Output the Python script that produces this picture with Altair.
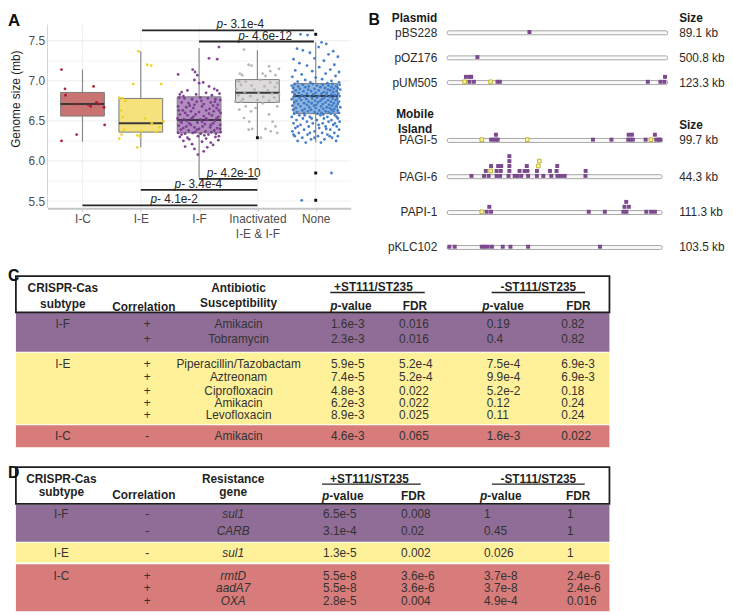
import altair as alt
import pandas as pd

FONT = "Liberation Sans"

# ---------------- Panel A : genome size by CRISPR-Cas subtype ----------------
CATS = ["I-C", "I-E", "I-F", "Inactivated I-E & I-F", "None"]
CAT_LABEL_LINES = [["I-C"], ["I-E"], ["I-F"], ["Inactivated", "I-E & I-F"], ["None"]]
BOX_LOW = [6.24, 6.17, 5.79, 6.30, 6.23]
BOX_Q1 = [6.56, 6.36, 6.35, 6.73, 6.59]
BOX_MED = [6.71, 6.47, 6.51, 6.85, 6.81]
BOX_Q3 = [6.855, 6.78, 6.80, 7.015, 6.965]
BOX_HIGH = [7.14, 7.37, 7.41, 7.38, 7.48]
BOX_FILL = ["#c97473", "#f6e27c", "#b08cbf", "#dddbdb", "#8fb6e0"]
PT_COLOR = ["#a8182c", "#f0d21e", "#7b3a8e", "#b3b3b3", "#3c78c6"]

IC_POINTS = [(-0.36, 7.14), (-0.30, 6.90), (-0.29, 6.82), (0.19, 6.93), (-0.12, 6.71), (0.10, 6.70),
             (0.14, 6.68), (0.24, 6.73), (0.28, 6.71), (0.37, 6.67), (0.38, 6.45), (-0.10, 6.33), (-0.36, 6.25)]
IE_POINTS = [(-0.04, 7.37), (0.11, 7.20), (0.18, 7.19), (-0.13, 6.96), (0.35, 6.96), (-0.37, 6.79),
             (-0.31, 6.78), (-0.26, 6.75), (-0.34, 6.63), (-0.31, 6.55), (0.07, 6.53), (0.19, 6.47),
             (0.39, 6.49), (-0.29, 6.39), (0.00, 6.37), (0.32, 6.42), (0.26, 6.36), (-0.33, 6.33),
             (-0.06, 6.32), (-0.02, 6.31), (-0.37, 6.28), (-0.06, 6.17)]
IF_POINTS = [(0.34, 7.42), (0.17, 7.28), (0.31, 7.27), (-0.36, 7.08), (-0.11, 7.14), (-0.07, 7.11),
             (-0.03, 7.07), (-0.08, 7.01), (0.00, 6.97), (0.07, 6.98), (0.17, 6.93), (0.26, 6.90),
             (0.31, 6.88), (-0.30, 6.86), (-0.20, 6.88), (0.12, 6.85), (-0.33, 6.83), (0.22, 6.82),
             (0.35, 6.84), (-0.05, 6.83), (-0.34, 6.79), (-0.25, 6.78), (-0.12, 6.77), (0.02, 6.79),
             (0.15, 6.78), (0.28, 6.77), (0.36, 6.76), (-0.30, 6.73), (-0.18, 6.72), (-0.04, 6.74),
             (0.08, 6.71), (0.20, 6.73), (0.32, 6.70), (-0.36, 6.68), (-0.22, 6.67), (-0.10, 6.66),
             (0.05, 6.68), (0.18, 6.65), (0.30, 6.66), (-0.28, 6.63), (-0.14, 6.62), (0.00, 6.61),
             (0.12, 6.63), (0.25, 6.62), (0.37, 6.60), (-0.33, 6.58), (-0.20, 6.57), (-0.06, 6.58),
             (0.08, 6.56), (0.22, 6.57), (0.33, 6.55), (-0.37, 6.53), (-0.26, 6.52), (-0.13, 6.53),
             (0.02, 6.52), (0.14, 6.51), (0.27, 6.50), (-0.30, 6.48), (-0.17, 6.47), (-0.03, 6.48),
             (0.10, 6.46), (0.24, 6.47), (0.36, 6.45), (-0.35, 6.44), (-0.22, 6.43), (-0.08, 6.42),
             (0.06, 6.43), (0.19, 6.42), (0.31, 6.41), (-0.31, 6.39), (-0.18, 6.38), (-0.04, 6.39),
             (0.11, 6.37), (0.26, 6.38), (0.37, 6.36), (-0.36, 6.35), (-0.24, 6.34), (-0.11, 6.35),
             (0.03, 6.34), (0.16, 6.33), (0.29, 6.34), (-0.33, 6.30), (-0.20, 6.29), (-0.02, 6.31),
             (0.12, 6.28), (0.28, 6.30), (-0.27, 6.25), (0.05, 6.24), (0.20, 6.23), (-0.12, 6.21),
             (0.33, 6.26), (-0.08, 6.15), (0.08, 6.12), (-0.02, 6.08),
             (-0.27, 6.81), (0.04, 6.75), (0.24, 6.69), (-0.16, 6.69), (0.34, 6.63), (-0.24, 6.60),
             (0.17, 6.59), (-0.10, 6.55), (0.30, 6.53), (-0.32, 6.50), (0.05, 6.49), (0.20, 6.45),
             (-0.14, 6.45), (0.36, 6.40), (-0.27, 6.41), (0.00, 6.40), (0.21, 6.36), (-0.07, 6.36),
             (-0.30, 6.33), (0.34, 6.31), (0.09, 6.32), (-0.17, 6.27), (0.24, 6.20), (-0.24, 6.18),
             (0.14, 6.17), (-0.35, 6.63), (0.27, 6.74), (-0.08, 6.70), (0.12, 6.53), (-0.21, 6.50)]
INACT_POINTS = [(-0.23, 7.39), (-0.15, 7.20), (-0.10, 7.19), (-0.30, 7.09), (-0.26, 7.07), (0.20, 7.18),
                (0.22, 7.12), (0.31, 7.07), (0.14, 7.06), (0.09, 7.09), (0.37, 7.15), (-0.31, 6.99),
                (-0.35, 7.00), (-0.20, 6.99), (0.05, 7.01), (0.22, 6.98), (0.34, 6.97), (-0.28, 6.95),
                (-0.10, 6.94), (0.12, 6.93), (0.30, 6.92), (-0.36, 6.90), (-0.05, 6.89), (0.18, 6.88),
                (-0.22, 6.86), (0.02, 6.85), (0.25, 6.84), (0.37, 6.83), (-0.33, 6.82), (-0.12, 6.81),
                (0.10, 6.80), (0.29, 6.79), (-0.25, 6.77), (0.00, 6.76), (0.20, 6.75), (-0.38, 6.74),
                (0.34, 6.74), (-0.28, 6.74), (-0.20, 6.68), (-0.11, 6.62), (-0.03, 6.66), (-0.23, 6.535),
                (-0.14, 6.49), (-0.15, 6.39), (-0.09, 6.40), (0.20, 6.58), (0.26, 6.49), (0.14, 6.40),
                (0.31, 6.43), (0.06, 6.29), (0.34, 6.68), (0.09, 6.72), (0.23, 6.37), (0.34, 6.35),
                (-0.31, 6.64)]
NONE_POINTS = [(-0.26, 7.58), (-0.14, 7.57), (0.10, 7.48), (0.18, 7.46), (-0.32, 7.40), (-0.22, 7.38),
               (0.30, 7.37), (0.05, 7.42), (-0.10, 7.35), (0.22, 7.33), (0.38, 7.30), (-0.38, 7.27),
               (-0.02, 7.28), (0.14, 7.25), (-0.28, 7.22), (0.32, 7.20), (-0.15, 7.19), (0.06, 7.17),
               (0.25, 7.14), (-0.35, 7.13), (0.40, 7.11), (-0.06, 7.12), (0.17, 7.09), (-0.24, 7.08),
               (0.34, 7.06), (-0.40, 7.05), (0.00, 7.04), (0.11, 7.02), (-0.18, 7.01), (0.27, 7.00),
               (-0.31, 6.99), (0.40, 6.98), (-0.09, 6.98), (0.20, 6.97),
               (-0.36, 6.96), (-0.05, 6.96), (0.29, 6.96), (-0.22, 6.95), (0.12, 6.95), (0.41, 6.95),
               (-0.41, 6.94), (0.02, 6.94), (0.22, 6.94), (-0.30, 6.93), (-0.12, 6.93), (0.35, 6.93),
               (-0.18, 6.92), (0.08, 6.92), (0.27, 6.92), (-0.39, 6.91), (0.16, 6.91), (0.38, 6.91),
               (-0.27, 6.90), (-0.02, 6.90), (0.31, 6.90), (-0.13, 6.89), (0.21, 6.89), (0.42, 6.89),
               (-0.34, 6.88), (0.05, 6.88), (0.25, 6.88), (-0.21, 6.87), (-0.08, 6.87), (0.36, 6.87),
               (-0.40, 6.86), (0.14, 6.86), (0.30, 6.86), (-0.29, 6.85), (0.00, 6.85), (0.19, 6.85),
               (-0.15, 6.84), (0.10, 6.84), (0.39, 6.84), (-0.36, 6.83), (-0.04, 6.83), (0.27, 6.83),
               (-0.24, 6.82), (0.18, 6.82), (0.33, 6.82), (-0.10, 6.81), (0.06, 6.81), (0.41, 6.81),
               (-0.38, 6.80), (-0.19, 6.80), (0.24, 6.80), (-0.28, 6.79), (0.02, 6.79), (0.15, 6.79),
               (-0.06, 6.78), (0.29, 6.78), (0.37, 6.78), (-0.41, 6.77), (-0.16, 6.77), (0.11, 6.77),
               (-0.25, 6.76), (0.21, 6.76), (0.34, 6.76), (-0.33, 6.75), (-0.01, 6.75), (0.08, 6.75),
               (-0.12, 6.74), (0.26, 6.74), (0.40, 6.74), (-0.37, 6.73), (0.04, 6.73), (0.17, 6.73),
               (-0.20, 6.72), (-0.07, 6.72), (0.31, 6.72), (-0.30, 6.71), (0.12, 6.71), (0.38, 6.71),
               (-0.15, 6.70), (0.23, 6.70), (0.01, 6.70), (-0.40, 6.69), (-0.03, 6.69), (0.28, 6.69),
               (-0.26, 6.68), (0.09, 6.68), (0.35, 6.68), (-0.11, 6.67), (0.19, 6.67), (0.42, 6.67),
               (-0.34, 6.66), (0.00, 6.66), (0.24, 6.66), (-0.19, 6.65), (0.13, 6.65), (0.32, 6.65),
               (-0.39, 6.64), (-0.08, 6.64), (0.27, 6.64), (-0.23, 6.63), (0.06, 6.63), (0.38, 6.63),
               (-0.13, 6.62), (0.17, 6.62), (0.30, 6.62), (-0.32, 6.61), (-0.02, 6.61), (0.22, 6.61),
               (-0.20, 6.60), (0.10, 6.60), (0.40, 6.60), (-0.37, 6.59), (0.03, 6.59), (0.26, 6.59),
               (-0.28, 6.57), (0.08, 6.57), (0.33, 6.57), (-0.41, 6.55), (-0.10, 6.55), (0.20, 6.55),
               (-0.22, 6.53), (0.14, 6.53), (0.38, 6.53), (-0.33, 6.51), (0.02, 6.51), (0.27, 6.51),
               (-0.15, 6.49), (0.22, 6.49), (0.41, 6.49), (-0.38, 6.47), (-0.05, 6.47), (0.12, 6.47),
               (-0.26, 6.45), (0.30, 6.45), (-0.12, 6.43), (0.17, 6.43), (0.36, 6.43), (-0.35, 6.41),
               (0.06, 6.41), (-0.20, 6.39), (0.25, 6.39), (0.40, 6.39), (-0.40, 6.37), (-0.02, 6.37),
               (-0.29, 6.35), (0.11, 6.35), (0.32, 6.35), (-0.14, 6.33), (0.20, 6.33), (-0.36, 6.31),
               (0.04, 6.31), (0.38, 6.31), (-0.23, 6.29), (0.28, 6.29), (-0.08, 6.27), (0.15, 6.27),
               (-0.31, 6.25), (0.35, 6.25), (-0.17, 6.23), (0.09, 6.23), (0.27, 5.85), (-0.24, 5.51),
               (-0.07, 6.53), (0.33, 6.47), (-0.31, 6.43), (0.18, 6.40), (-0.10, 6.35), (0.24, 6.31),
               (-0.02, 6.29), (-0.38, 6.33), (0.05, 6.45), (-0.19, 6.57), (0.36, 6.55), (0.13, 6.58)]
GROUP_POINTS = [IC_POINTS, IE_POINTS, IF_POINTS, INACT_POINTS, NONE_POINTS]
OUTLIER_CAT = [3, 4, 4, 4]
OUTLIER_VAL = [6.29, 7.58, 5.85, 5.51]

BRACKET_FROM = [1.02, 2.0, 2.0, 1.0, 0.0]
BRACKET_TO = [3.97, 3.97, 3.0, 3.0, 3.0]
BRACKET_Y = [7.63, 7.49, 5.776, 5.64, 5.447]
BRACKET_P = ["3.1e-4", "4.6e-12", "4.2e-10", "3.4e-4", "4.1e-2"]
BRACKET_TEXT_AT = [2.30, 2.67, 2.13, 1.58, 1.165]

Y_MAJOR = [5.5, 6.0, 6.5, 7.0, 7.5]
Y_MINOR = [5.75, 6.25, 6.75, 7.25]

# ---------------- Panel B : protospacer positions ----------------
PLASMIDS = ["pBS228", "pOZ176", "pUM505"]
PLASMID_SIZE = ["89.1 kb", "500.8 kb", "123.3 kb"]
ISLANDS = ["PAGI-5", "PAGI-6", "PAPI-1", "pKLC102"]
ISLAND_SIZE = ["99.7 kb", "44.3 kb", "111.3 kb", "103.5 kb"]
# (position along element in % of track, stack level, subtype)
MARKERS = {
    "pBS228": [(37.3, 0, "I-F")],
    "pOZ176": [(13.7, 0, "I-F")],
    "pUM505": [(7.9, 0, "I-E"), (8.5, 1, "I-F"), (10.1, 1, "I-F"), (10.9, 1, "I-F"), (10.1, 0, "I-F"),
               (12.1, 0, "I-F"), (19.7, 0, "I-E"), (22.8, 0, "I-F"), (23.9, 0, "I-F"), (91.0, 0, "I-F"),
               (96.7, 0, "I-F"), (98.5, 0, "I-F"), (98.8, 1, "I-F")],
    "PAGI-5": [(15.7, 0, "I-E"), (19.9, 0, "I-F"), (21.0, 0, "I-F"), (22.2, 0, "I-F"), (22.9, 0, "I-F"),
               (22.1, 1, "I-F"), (36.3, 0, "I-E"), (66.1, 0, "I-F"), (74.5, 0, "I-F"), (82.1, 0, "I-F"),
               (83.1, 0, "I-F"), (84.2, 0, "I-F"), (82.3, 1, "I-F"), (83.8, 1, "I-F"), (90.0, 0, "I-F"),
               (92.4, 0, "I-E"), (94.2, 1, "I-F"), (94.8, 0, "I-F"), (96.0, 0, "I-F"), (96.7, 0, "I-F")],
    "PAGI-6": [(11.0, 0, "I-F"), (16.7, 0, "I-F"), (18.8, 0, "I-F"), (22.4, 0, "I-F"), (24.0, 0, "I-F"),
               (27.8, 0, "I-F"), (30.6, 0, "I-F"), (31.9, 0, "I-F"), (33.6, 0, "I-F"), (36.7, 0, "I-F"),
               (40.7, 0, "I-F"), (43.6, 0, "I-F"), (47.2, 0, "I-F"), (50.0, 0, "I-F"), (51.6, 0, "I-F"),
               (53.3, 0, "I-F"), (62.7, 0, "I-F"),
               (17.5, 1, "I-F"), (19.7, 1, "I-E"), (22.4, 1, "I-F"), (24.3, 1, "I-F"), (28.2, 1, "I-F"),
               (32.8, 1, "I-F"), (35.1, 1, "I-F"), (36.4, 1, "I-F"), (40.7, 1, "I-F"), (46.6, 1, "I-F"),
               (49.6, 1, "I-F"), (62.8, 1, "I-F"),
               (19.9, 2, "I-F"), (23.1, 2, "I-F"), (24.5, 2, "I-F"), (28.2, 2, "I-F"), (36.1, 2, "I-F"),
               (41.3, 2, "I-E"), (49.9, 2, "I-F"),
               (28.2, 3, "I-F"), (41.8, 3, "I-E"), (28.2, 4, "I-F")],
    "PAPI-1": [(15.7, 0, "I-E"), (17.9, 0, "I-F"), (19.9, 0, "I-F"), (64.2, 0, "I-F"), (71.5, 0, "I-F"),
               (79.9, 0, "I-F"), (81.3, 0, "I-F"), (90.3, 0, "I-F"), (92.5, 0, "I-F"), (94.2, 0, "I-F"),
               (19.1, 1, "I-F"), (80.4, 1, "I-F"), (82.4, 1, "I-F"), (81.2, 2, "I-F")],
    "pKLC102": [(1.0, 0, "I-F"), (3.4, 0, "I-F"), (15.7, 0, "I-F"), (16.9, 0, "I-F"), (18.4, 0, "I-F"),
                (20.3, 0, "I-F"), (25.2, 0, "I-F"), (28.7, 0, "I-F"), (36.7, 0, "I-F"), (69.3, 0, "I-F")],
}

# ---------------- Panel C table ----------------
C_SUBTYPE = ["I-F", "", "I-E", "", "", "", "", "I-C"]
C_GROUP = ["I-F", "I-F", "I-E", "I-E", "I-E", "I-E", "I-E", "I-C"]
C_CORR = ["+", "+", "+", "+", "+", "+", "+", "-"]
C_DRUG = ["Amikacin", "Tobramycin", "Piperacillin/Tazobactam", "Aztreonam", "Ciprofloxacin",
          "Amikacin", "Levofloxacin", "Amikacin"]
C_P_WITH = ["1.6e-3", "2.3e-3", "5.9e-5", "7.4e-5", "4.8e-3", "6.2e-3", "8.9e-3", "4.6e-3"]
C_FDR_WITH = ["0.016", "0.016", "5.2e-4", "5.2e-4", "0.022", "0.022", "0.025", "0.065"]
C_P_WITHOUT = ["0.19", "0.4", "7.5e-4", "9.9e-4", "5.2e-2", "0.12", "0.11", "1.6e-3"]
C_FDR_WITHOUT = ["0.82", "0.82", "6.9e-3", "6.9e-3", "0.18", "0.24", "0.24", "0.022"]

# ---------------- Panel D table ----------------
D_SUBTYPE = ["I-F", "", "I-E", "I-C", "", ""]
D_GROUP = ["I-F", "I-F", "I-E", "I-C", "I-C", "I-C"]
D_CORR = ["-", "-", "-", "+", "+", "+"]
D_GENE = ["sul1", "CARB", "sul1", "rmtD", "aadA7", "OXA"]
D_P_WITH = ["6.5e-5", "3.1e-4", "1.3e-5", "5.5e-8", "5.5e-8", "2.8e-5"]
D_FDR_WITH = ["0.008", "0.02", "0.002", "3.6e-6", "3.6e-6", "0.004"]
D_P_WITHOUT = ["1", "0.45", "0.026", "3.7e-8", "3.7e-8", "4.9e-4"]
D_FDR_WITHOUT = ["1", "1", "1", "2.4e-6", "2.4e-6", "0.016"]

GROUP_COLOR = {"I-F": "#8f6d97", "I-E": "#fff19a", "I-C": "#d77c7a"}

# =====================================================================
# Panel A
A_W, A_H = 307, 199
xs = alt.Scale(domain=[-0.6, 4.6], nice=False, zero=False)
ys = alt.Scale(domain=[5.41, 7.861], nice=False, zero=False)


def js_label(lines):
    if len(lines) == 1:
        return "'" + lines[0] + "'"
    return "[" + ", ".join("'" + l + "'" for l in lines) + "]"


label_expr = ""
for i, lines in enumerate(CAT_LABEL_LINES):
    label_expr += f"datum.value == {i} ? {js_label(lines)} : "
label_expr += "''"

box_df = pd.DataFrame({"idx": range(len(CATS)), "cat": CATS, "low": BOX_LOW, "q1": BOX_Q1,
                       "med": BOX_MED, "q3": BOX_Q3, "high": BOX_HIGH, "fill": BOX_FILL})
box_df["left"] = box_df["idx"] - 0.375
box_df["right"] = box_df["idx"] + 0.375

pt_rows = []
for i, pts in enumerate(GROUP_POINTS):
    for jit, val in pts:
        pt_rows.append({"x": i + jit, "y": val, "color": PT_COLOR[i]})
pt_df = pd.DataFrame(pt_rows)
out_df = pd.DataFrame({"x": OUTLIER_CAT, "y": OUTLIER_VAL})
br_df = pd.DataFrame({"x0": BRACKET_FROM, "x1": BRACKET_TO, "y": BRACKET_Y,
                      "tx": BRACKET_TEXT_AT, "rest": ["- " + p for p in BRACKET_P], "p": "p"})
hgrid = pd.DataFrame({"v": Y_MAJOR + Y_MINOR, "major": [1] * len(Y_MAJOR) + [0] * len(Y_MINOR),
                      "x0": -0.6, "x1": 4.6})
vgrid = pd.DataFrame({"idx": range(len(CATS)), "y0": 5.41, "y1": 7.70})
axis_line = pd.DataFrame({"x": [-0.6], "y0": [5.41], "y1": [7.70]})

X_AXIS = alt.Axis(values=list(range(len(CATS))), labelExpr=label_expr, title=None, grid=False,
                  domainColor="#c6c6c6", domainWidth=2, tickColor="#c6c6c6", tickSize=3,
                  labelFontSize=12, labelColor="#4d4d4d", labelPadding=2, labelLineHeight=16,
                  labelOverlap=False, labelFlush=False, labelFont=FONT)
Y_AXIS = alt.Axis(values=Y_MAJOR, format=".1f", title="Genome size (mb)", grid=False, domain=False,
                  ticks=False, labelPadding=3, labelFontSize=12, labelColor="#4d4d4d", labelFont=FONT,
                  titleFontSize=12, titleFontWeight="normal", titleColor="#1a1a1a", titlePadding=6,
                  titleFont=FONT, titleY=88)


def ax(field):
    return alt.X(field, scale=xs, axis=X_AXIS)


def ay(field):
    return alt.Y(field, scale=ys, axis=Y_AXIS)


hgrid_l = alt.Chart(hgrid).mark_rule(strokeWidth=0.8).encode(
    x=ax("x0:Q"), x2="x1:Q", y=ay("v:Q"),
    color=alt.Color("major:N", scale=alt.Scale(domain=[0, 1], range=["#f4f4f4", "#e9e9e9"]), legend=None))
vgrid_l = alt.Chart(vgrid).mark_rule(strokeWidth=0.8, color="#ececec").encode(
    x=ax("idx:Q"), y=ay("y0:Q"), y2="y1:Q")
axline_l = alt.Chart(axis_line).mark_rule(strokeWidth=1, color="#d3d3d3").encode(
    x=ax("x:Q"), y=ay("y0:Q"), y2="y1:Q")
whisk_l = alt.Chart(box_df).mark_rule(strokeWidth=1.2, color="#8a8a8a").encode(
    x=ax("idx:Q"), y=ay("low:Q"), y2="high:Q")
box_l = alt.Chart(box_df).mark_bar(stroke="#7a7a7a", strokeWidth=1).encode(
    x=ax("left:Q"), x2="right:Q", y=ay("q1:Q"), y2="q3:Q", fill=alt.Fill("fill:N", scale=None))
med_l = alt.Chart(box_df).mark_rule(strokeWidth=2, color="#3a3a3a").encode(
    x=ax("left:Q"), x2="right:Q", y=ay("med:Q"))
pts_l = alt.Chart(pt_df).mark_circle(size=8, opacity=0.95).encode(
    x=ax("x:Q"), y=ay("y:Q"), color=alt.Color("color:N", scale=None))
out_l = alt.Chart(out_df).mark_square(size=9, color="#111111", opacity=1).encode(
    x=ax("x:Q"), y=ay("y:Q"))
br_l = alt.Chart(br_df).mark_rule(strokeWidth=1.8, color="#262626").encode(
    x=ax("x0:Q"), x2="x1:Q", y=ay("y:Q"))
brp_l = alt.Chart(br_df).mark_text(align="left", baseline="alphabetic", dy=-2, fontSize=12,
                                   fontStyle="italic", font=FONT, color="#262626").encode(
    x=ax("tx:Q"), y=ay("y:Q"), text="p:N")
brt_l = alt.Chart(br_df).mark_text(align="left", baseline="alphabetic", dy=-2, dx=6.7, fontSize=12,
                                   font=FONT, color="#262626").encode(
    x=ax("tx:Q"), y=ay("y:Q"), text="rest:N")
a_letter = alt.Chart(pd.DataFrame({"t": ["A"]})).mark_text(
    align="left", baseline="alphabetic", fontSize=17, fontWeight="bold", font=FONT, color="#111111").encode(
    x=alt.value(-40), y=alt.value(14), text="t:N")

panel_a = alt.layer(hgrid_l, vgrid_l, axline_l, whisk_l, box_l, med_l, pts_l, out_l, br_l, brp_l,
                    brt_l, a_letter).properties(width=A_W, height=A_H)

# =====================================================================
# Panel B
B_TOP, B_BOTTOM = 4, 250
B_W, B_H = 363, B_BOTTOM - B_TOP
bx = alt.Scale(domain=[-36.6, 126.0], nice=False, zero=False)
by = alt.Scale(domain=[B_TOP, B_BOTTOM], reverse=True, nice=False, zero=False)
ELEMENTS = PLASMIDS + ISLANDS
SIZES = PLASMID_SIZE + ISLAND_SIZE
ROW_Y = [25.3, 50.7, 75.7, 134.3, 171.0, 207.3, 242.7]
TRACK_END = [100.0] * len(PLASMIDS) + [97.5] * len(ISLANDS)
LABEL_X, SIZE_X = -4.5, 105.2

bar_df = pd.DataFrame({"name": ELEMENTS, "x0": 0.0, "x1": TRACK_END,
                       "y0": [r - 2.0 for r in ROW_Y], "y1": [r + 2.0 for r in ROW_Y]})
lab_df = pd.DataFrame({"t": ELEMENTS, "x": LABEL_X, "y": ROW_Y})
size_df = pd.DataFrame({"t": SIZES, "x": SIZE_X, "y": ROW_Y})
mk_rows = []
for name, ry in zip(ELEMENTS, ROW_Y):
    for pos, lvl, st in MARKERS[name]:
        mk_rows.append({"x": pos, "y": ry - 0.8 - 5.0 * lvl, "st": st})
mk_df = pd.DataFrame(mk_rows)
hdr_right = pd.DataFrame({"t": ["Plasmid", "Mobile", "Island"], "x": [LABEL_X, -14.6, -14.6],
                          "y": [10.0, 107.3, 122.7], "al": ["right", "center", "center"]})
hdr_size = pd.DataFrame({"t": ["Size", "Size"], "x": SIZE_X, "y": [10.0, 118.3]})


def bxe(f):
    return alt.X(f, scale=bx, axis=None)


def bye(f):
    return alt.Y(f, scale=by, axis=None)


bars_l = alt.Chart(bar_df).mark_rect(fill="#f9f9f9", stroke="#9d9d9d", strokeWidth=0.9,
                                     cornerRadius=1.5).encode(
    x=bxe("x0:Q"), x2="x1:Q", y=bye("y0:Q"), y2="y1:Q")
mkf_l = alt.Chart(mk_df).transform_filter(alt.datum.st == "I-F").mark_square(
    size=16, color="#7b4a8e", opacity=1).encode(x=bxe("x:Q"), y=bye("y:Q"))
mke_l = alt.Chart(mk_df).transform_filter(alt.datum.st == "I-E").mark_point(
    shape="square", size=14, filled=True, fill="#f8f2ae", stroke="#c2b62a", strokeWidth=1,
    opacity=1).encode(x=bxe("x:Q"), y=bye("y:Q"))
lab_l = alt.Chart(lab_df).mark_text(align="right", baseline="middle", fontSize=12, font=FONT,
                                    color="#2b2b2b").encode(x=bxe("x:Q"), y=bye("y:Q"), text="t:N")
size_l = alt.Chart(size_df).mark_text(align="left", baseline="middle", fontSize=12, font=FONT,
                                      color="#2b2b2b").encode(x=bxe("x:Q"), y=bye("y:Q"), text="t:N")
hdr_r_l = alt.Chart(hdr_right).transform_filter(alt.datum.al == "right").mark_text(
    align="right", baseline="middle", fontSize=12, fontWeight="bold", font=FONT, color="#1a1a1a").encode(
    x=bxe("x:Q"), y=bye("y:Q"), text="t:N")
hdr_c_l = alt.Chart(hdr_right).transform_filter(alt.datum.al == "center").mark_text(
    align="center", baseline="middle", fontSize=12, fontWeight="bold", font=FONT, color="#1a1a1a").encode(
    x=bxe("x:Q"), y=bye("y:Q"), text="t:N")
hdr_s_l = alt.Chart(hdr_size).mark_text(align="left", baseline="middle", fontSize=12,
                                        fontWeight="bold", font=FONT, color="#1a1a1a").encode(
    x=bxe("x:Q"), y=bye("y:Q"), text="t:N")
b_letter = alt.Chart(pd.DataFrame({"t": ["B"], "x": [-35.7], "y": [17.0]})).mark_text(
    align="left", baseline="alphabetic", fontSize=16, fontWeight="bold", font=FONT, color="#111111").encode(
    x=bxe("x:Q"), y=bye("y:Q"), text="t:N")

panel_b = alt.layer(bars_l, mkf_l, mke_l, lab_l, size_l, hdr_r_l, hdr_c_l, hdr_s_l,
                    b_letter).properties(width=B_W, height=B_H)


# =====================================================================
# Tables C and D (x in table pixel units; origin aligned with panel A's plot origin)
T_X0, T_X1 = 46.0, 618.0


def make_table(letter, letter_y, height, header_box, bands, hdr_texts, hdr_italic_p, underlines,
               body_cols, body_y, italic_col=None):
    W = T_X1 - T_X0
    sx = alt.Scale(domain=[T_X0, T_X1], nice=False, zero=False)
    sy = alt.Scale(domain=[0, height], reverse=True, nice=False, zero=False)

    def tl(df, align, weight="normal", style="normal", color="#333333", size=12):
        return alt.Chart(df).mark_text(align=align, baseline="middle", fontSize=size, font=FONT,
                                       fontWeight=weight, fontStyle=style, color=color).encode(
            x=alt.X("x:Q", scale=sx, axis=None), y=alt.Y("y:Q", scale=sy, axis=None), text="t:N")

    band_df = pd.DataFrame(bands)
    bands_l = alt.Chart(band_df).mark_rect().encode(
        x=alt.X("x0:Q", scale=sx, axis=None), x2="x1:Q", y=alt.Y("y0:Q", scale=sy, axis=None),
        y2="y1:Q", fill=alt.Fill("fill:N", scale=None))
    hb = pd.DataFrame([header_box])
    hbox_l = alt.Chart(hb).mark_rect(fill="white", stroke="#1e1e1e", strokeWidth=1.8).encode(
        x=alt.X("x0:Q", scale=sx, axis=None), x2="x1:Q", y=alt.Y("y0:Q", scale=sy, axis=None), y2="y1:Q")
    ul_l = alt.Chart(pd.DataFrame(underlines)).mark_rule(strokeWidth=1.5, color="#222222").encode(
        x=alt.X("x0:Q", scale=sx, axis=None), x2="x1:Q", y=alt.Y("y:Q", scale=sy, axis=None))
    hdf = pd.DataFrame(hdr_texts)
    layers = [bands_l, hbox_l, ul_l]
    for al in ["left", "center"]:
        sub = hdf[hdf["al"] == al]
        if len(sub):
            layers.append(tl(sub, al, weight="bold", color="#1f1f1f"))
    pdf = pd.DataFrame(hdr_italic_p)
    layers.append(tl(pdf.assign(t="p"), "left", weight="bold", style="italic", color="#1f1f1f"))
    layers.append(tl(pdf.assign(x=pdf["x"] + 7.3, t="-value"), "left", weight="bold", color="#1f1f1f"))
    for ci, (texts, x, al) in enumerate(body_cols):
        df = pd.DataFrame({"t": texts, "x": x, "y": body_y})
        df = df[df["t"] != ""]
        style = "italic" if italic_col == ci else "normal"
        layers.append(tl(df, al, style=style))
    layers.append(alt.Chart(pd.DataFrame({"t": [letter]})).mark_text(
        align="left", baseline="middle", fontSize=16, fontWeight="bold", font=FONT, color="#111111").encode(
        x=alt.value(-40), y=alt.value(letter_y), text="t:N"))
    return alt.layer(*layers).properties(width=W, height=height)


TL, TR = 14.0, 615.0
# --- C
C_H = 187
c_bands = [{"x0": TL, "x1": TR, "y0": 46.0, "y1": 85.3, "fill": GROUP_COLOR["I-F"]},
           {"x0": TL, "x1": TR, "y0": 86.3, "y1": 158.7, "fill": GROUP_COLOR["I-E"]},
           {"x0": TL, "x1": TR, "y0": 159.7, "y1": 182.0, "fill": GROUP_COLOR["I-C"]}]
c_hdr = [{"t": "CRISPR-Cas", "x": 61.5, "y": 20.5, "al": "center"},
         {"t": "subtype", "x": 61.5, "y": 36.5, "al": "center"},
         {"t": "Correlation", "x": 143.5, "y": 39.5, "al": "center"},
         {"t": "Antibiotic", "x": 239.5, "y": 20.5, "al": "center"},
         {"t": "Susceptibility", "x": 239.5, "y": 36.0, "al": "center"},
         {"t": "+ST111/ST235", "x": 376.0, "y": 19.5, "al": "center"},
         {"t": "-ST111/ST235", "x": 543.0, "y": 19.5, "al": "center"},
         {"t": "FDR", "x": 405.7, "y": 39.3, "al": "left"},
         {"t": "FDR", "x": 571.3, "y": 39.3, "al": "left"}]
c_p = [{"x": 332.3, "y": 39.3}, {"x": 486.3, "y": 39.3}]
c_ul = [{"x0": 332.3, "x1": 428.0, "y": 25.3}, {"x0": 495.7, "x1": 590.3, "y": 25.3}]
C_ROW_Y = [57.0, 72.7, 98.0, 111.3, 125.3, 137.7, 149.7, 170.3]
c_cols = [(C_SUBTYPE, 61.5, "center"), (C_CORR, 147.0, "center"), (C_DRUG, 239.5, "center"),
          (C_P_WITH, 333.0, "left"), (C_FDR_WITH, 402.0, "left"), (C_P_WITHOUT, 490.7, "left"),
          (C_FDR_WITHOUT, 566.3, "left")]
panel_c = make_table("C", 9, C_H, {"x0": TL, "x1": TR, "y0": 8.7, "y1": 45.3}, c_bands, c_hdr, c_p,
                     c_ul, c_cols, C_ROW_Y)

# --- D
D_H = 148
d_bands = [{"x0": TL, "x1": TR, "y0": 40.3, "y1": 77.7, "fill": GROUP_COLOR["I-F"]},
           {"x0": TL, "x1": TR, "y0": 78.7, "y1": 98.7, "fill": GROUP_COLOR["I-E"]},
           {"x0": TL, "x1": TR, "y0": 100.3, "y1": 148.0, "fill": GROUP_COLOR["I-C"]}]
d_hdr = [{"t": "CRISPR-Cas", "x": 60.0, "y": 14.5, "al": "center"},
         {"t": "subtype", "x": 60.0, "y": 27.5, "al": "center"},
         {"t": "Correlation", "x": 143.5, "y": 30.5, "al": "center"},
         {"t": "Resistance", "x": 234.0, "y": 14.5, "al": "center"},
         {"t": "gene", "x": 234.0, "y": 27.5, "al": "center"},
         {"t": "+ST111/ST235", "x": 372.0, "y": 13.7, "al": "center"},
         {"t": "-ST111/ST235", "x": 543.0, "y": 13.7, "al": "center"},
         {"t": "FDR", "x": 404.0, "y": 31.5, "al": "left"},
         {"t": "FDR", "x": 571.0, "y": 31.5, "al": "left"}]
d_p = [{"x": 324.0, "y": 31.5}, {"x": 484.0, "y": 31.5}]
d_ul = [{"x0": 324.0, "x1": 424.0, "y": 19.3}, {"x0": 496.0, "x1": 590.0, "y": 19.3}]
D_ROW_Y = [49.3, 67.0, 88.7, 112.0, 125.0, 138.0]
d_cols = [(D_SUBTYPE, 60.0, "center"), (D_CORR, 147.0, "center"), (D_GENE, 234.0, "center"),
          (D_P_WITH, 325.0, "left"), (D_FDR_WITH, 404.0, "left"), (D_P_WITHOUT, 488.0, "left"),
          (D_FDR_WITHOUT, 572.0, "left")]
panel_d = make_table("D", 8, D_H, {"x0": TL, "x1": TR, "y0": 2.0, "y1": 39.3}, d_bands, d_hdr, d_p,
                     d_ul, d_cols, D_ROW_Y, italic_col=2)

top_row = alt.hconcat(panel_a, panel_b, spacing=15)
chart = alt.vconcat(top_row, panel_c, panel_d, spacing=13, padding=0).configure(
    font=FONT).configure_view(stroke=None)

chart.save("out.html", embed_options={"renderer": "svg", "actions": False})
